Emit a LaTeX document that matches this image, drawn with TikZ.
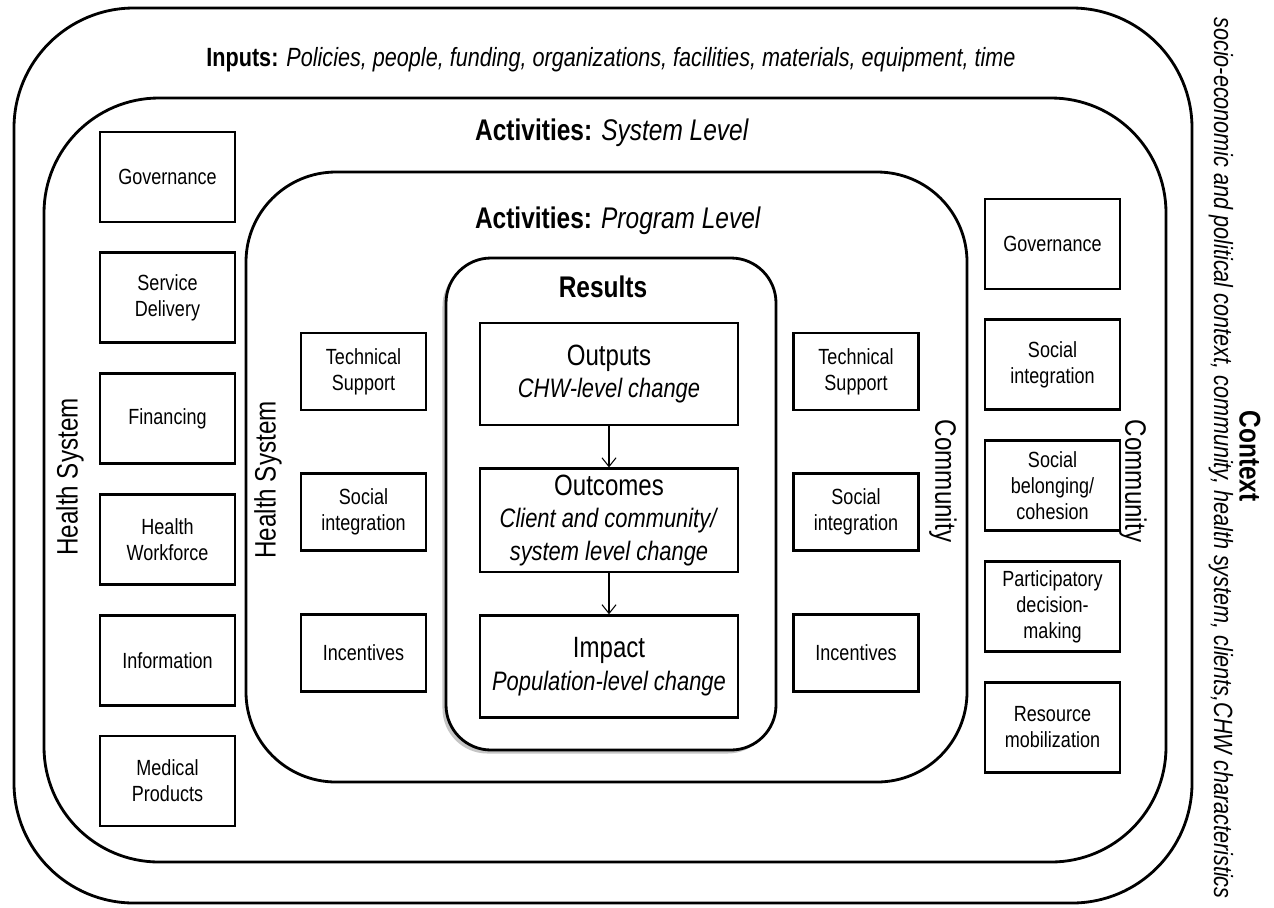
\documentclass[tikz,border=0pt]{standalone}
\usepackage{fontspec}
\setmainfont{Liberation Sans}[FakeStretch=0.82]
\usetikzlibrary{positioning,shadows,arrows.meta}

\begin{document}
\begin{tikzpicture}[x=0.02cm,y=-0.02cm,thick]
    % `sysbox' is used for the boxes of the system level (both sides).
    % `progbox' is used for the boxes of the program level.
    % `resbox' is used for the three result boxes.
    % `frame' is used for the rounded containers.
    \tikzstyle{sysbox} = [draw,line width=1.6pt,minimum width=2.7cm,minimum height=1.8cm,
                          align=center,inner sep=2pt,font=\fontsize{12.5}{14.8}\selectfont]
    \tikzstyle{progbox} = [sysbox,minimum width=2.5cm,minimum height=1.54cm]
    \tikzstyle{resbox} = [draw,line width=1.6pt,minimum width=5.16cm,minimum height=2.04cm,
                          align=center,font=\fontsize{15.2}{18.6}\selectfont]
    \tikzstyle{frame} = [draw,line width=1.6pt,fill=white]
    \tikzstyle{heading} = [font=\fontsize{17}{20}\selectfont]
    \tikzstyle{side} = [font=\fontsize{16.8}{20}\selectfont]
    \tikzstyle{flow} = [-{Straight Barb[length=5pt,width=8pt]},line width=0.6pt]
    %
    \useasboundingbox[fill=white] (0,0) rectangle (1274,907);
    % Draw containers.
    \draw[frame,rounded corners=2.4cm] (14,8) rectangle (1192,903);
    \draw[frame,rounded corners=2.3cm] (44,98) rectangle (1166,862);
    \draw[frame,rounded corners=1.8cm] (246,172) rectangle (967,782);
    \draw[frame,rounded corners=0.9cm,
          drop shadow={shadow xshift=-2pt,shadow yshift=-2pt,fill=black!45}]
          (446,258) rectangle (776,750);
    %
    \node[font=\fontsize{15}{18}\selectfont] (inputs) at (611,60)
        {\textbf{Inputs:} \textit{Policies, people, funding, organizations, facilities, materials, equipment, time}};
    \node[heading] (syslevel) at (612,133) {\textbf{Activities:} \textit{System Level}};
    \node[heading] (proglevel) at (618,221) {\textbf{Activities:} \textit{Program Level}};
    \node[heading] (results) at (603,287) {\textbf{Results}};
    %
    % System level, health system side.
    \node[sysbox] (hgov) at (167.5,177) {Governance};
    \node[sysbox,below=0.56cm of hgov] (service) {Service\\Delivery};
    \node[sysbox,below=0.56cm of service] (financing) {Financing};
    \node[sysbox,below=0.56cm of financing] (workforce) {Health\\Workforce};
    \node[sysbox,below=0.56cm of workforce] (information) {Information};
    \node[sysbox,below=0.56cm of information] (medical) {Medical\\Products};
    %
    % System level, community side.
    \node[sysbox] (cgov) at (1052.5,244) {Governance};
    \node[sysbox,below=0.56cm of cgov] (cintegr) {Social\\integration};
    \node[sysbox,below=0.56cm of cintegr] (belonging) {Social\\belonging/\\cohesion};
    \node[sysbox,below=0.56cm of belonging] (decision) {Participatory\\decision-\\making};
    \node[sysbox,below=0.56cm of decision] (resource) {Resource\\mobilization};
    %
    % Program level, both sides.
    \node[progbox] (htech) at (363.5,371.5) {Technical\\Support};
    \node[progbox,below=1.22cm of htech] (hintegr) {Social\\integration};
    \node[progbox,below=1.22cm of hintegr] (hincent) {Incentives};
    \node[progbox] (ctech) at (856,371.5) {Technical\\Support};
    \node[progbox,below=1.22cm of ctech] (csocial) {Social\\integration};
    \node[progbox,below=1.22cm of csocial] (cincent) {Incentives};
    %
    % Results.
    \node[resbox] (outputs) at (609,374)
        {{\fontsize{16.7}{18.6}\selectfont Outputs}\\ \textit{CHW-level change}};
    \node[resbox,below=0.82cm of outputs] (outcomes)
        {{\fontsize{16.7}{18.6}\selectfont Outcomes}\\ \textit{Client and community/}\\ \textit{system level change}};
    \node[resbox,below=0.82cm of outcomes] (impact)
        {{\fontsize{16.7}{18.6}\selectfont Impact}\\ \textit{Population-level change}};
    \draw[flow] (outputs) -- (outcomes);
    \draw[flow] (outcomes) -- (impact);
    %
    % Side labels and context.
    \node[side,rotate=90] (hsouter) at (70,477) {Health System};
    \node[side,rotate=90] (hsinner) at (268,480) {Health System};
    \node[side,rotate=-90] (cominner) at (943,481) {Community};
    \node[side,rotate=-90] (comouter) at (1133,481) {Community};
    \node[rotate=-90,font=\fontsize{17}{20}\selectfont\bfseries] (context) at (1250,456) {Context};
    \node[rotate=-90,font=\fontsize{15}{18}\selectfont\itshape] (contextsub) at (1221,458)
        {socio-economic and political context, community, health system, clients,CHW characteristics};
\end{tikzpicture}
\end{document}
